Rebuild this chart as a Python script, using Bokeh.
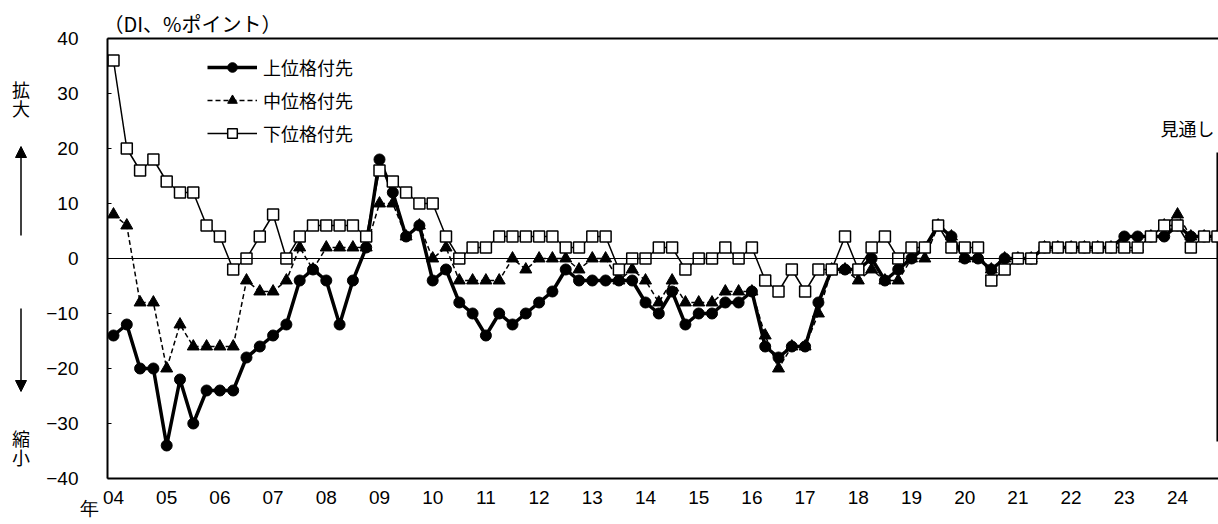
from bokeh.plotting import figure
from bokeh.layouts import row
from bokeh.models import (Legend, LegendItem, FixedTicker, LinearAxis, Label, Arrow,
                          NormalHead, Span, Range1d)
from bokeh.embed import file_html
from bokeh.resources import INLINE
from bokeh.core.properties import value

# ---- data (quarterly, 2004Q1 .. 2024Q4; last point = outlook) ----
quarters = [f"{y:02d}Q{q}" for y in range(4, 25) for q in range(1, 5)]
year_labels = ["04", "05", "06", "07", "08", "09", "10", "11", "12", "13", "14",
               "15", "16", "17", "18", "19", "20", "21", "22", "23", "24"]

upper = [-14, -12, -20, -20, -34, -22, -30, -24, -24, -24,
         -18, -16, -14, -12, -4, -2, -4, -12, -4, 2,
         18, 12, 4, 6, -4, -2, -8, -10, -14, -10,
         -12, -10, -8, -6, -2, -4, -4, -4, -4, -4,
         -8, -10, -6, -12, -10, -10, -8, -8, -6, -16,
         -18, -16, -16, -8, -2, -2, -2, 0, -4, -2,
         0, 2, 6, 4, 0, 0, -2, 0, 0, 0,
         2, 2, 2, 2, 2, 2, 4, 4, 4, 4,
         6, 4, 4, 4]

middle = [8, 6, -8, -8, -20, -12, -16, -16, -16, -16,
          -4, -6, -6, -4, 2, -2, 2, 2, 2, 2,
          10, 10, 4, 6, 0, 2, -4, -4, -4, -4,
          0, -2, 0, 0, 0, -2, 0, 0, -4, -2,
          -4, -8, -4, -8, -8, -8, -6, -6, -6, -14,
          -20, -16, -16, -10, -2, -2, -4, -2, -4, -4,
          0, 0, 6, 4, 0, 0, -2, 0, 0, 0,
          2, 2, 2, 2, 2, 2, 2, 2, 4, 6,
          8, 4, 4, 4]

lower = [36, 20, 16, 18, 14, 12, 12, 6, 4, -2,
         0, 4, 8, 0, 4, 6, 6, 6, 6, 4,
         16, 14, 12, 10, 10, 4, 0, 2, 2, 4,
         4, 4, 4, 4, 2, 2, 4, 4, -2, 0,
         0, 2, 2, -2, 0, 0, 2, 0, 2, -4,
         -6, -2, -6, -2, -2, 4, -2, 2, 4, 0,
         2, 2, 6, 2, 2, 2, -4, -2, 0, 0,
         2, 2, 2, 2, 2, 2, 2, 2, 4, 6,
         6, 2, 4, 4]

series_names = ["上位格付先", "中位格付先", "下位格付先"]
y_ticks = [-40, -30, -20, -10, 0, 10, 20, 30, 40]
side_up = ["拡", "大"]
side_down = ["縮", "小"]
year_mark = "年"

x = list(range(len(quarters)))
outlook_x = len(quarters) - 1

JP = "Noto Sans CJK JP"
NUM = "Liberation Sans"

# ---- layout (page drawn from top-left corner) ----
W, H = 1218, 524
LW = 36                            # width of the left side strip
FL, FT, FB = 107, 38, 46           # frame left (page px) / top / bottom borders
X0, X1 = -0.45, 83.08
Y0, Y1 = -40, 40
FW = W - FL
FH = H - FT - FB


def fx(px):
    return X0 + (px - FL) * (X1 - X0) / FW


def fy(py):
    return Y1 - (py - FT) * (Y1 - Y0) / FH


# ---- left strip: 拡大 / 縮小 with arrows (coordinates = page pixels) ----
side = figure(width=LW, height=H, x_range=Range1d(0, LW), y_range=Range1d(H - FB, FT),
              x_axis_type=None, y_axis_type=None, output_backend="svg", toolbar_location=None,
              min_border_left=0, min_border_right=0, min_border_top=FT, min_border_bottom=FB)
side.outline_line_color = None
side.background_fill_color = "white"
side.border_fill_color = "white"
side.text(x=[20.5, 20.5], y=[88, 107], text=side_up, text_font=value(JP), text_font_size="18px",
          text_align="center", text_baseline="middle", text_color="black")
side.text(x=[20.5, 20.5], y=[437, 456], text=side_down, text_font=value(JP), text_font_size="18px",
          text_align="center", text_baseline="middle", text_color="black")
side.add_layout(Arrow(x_start=20.5, y_start=235, x_end=20.5, y_end=146, line_width=1.5,
                      line_color="black",
                      end=NormalHead(size=11, fill_color="black", line_color="black")))
side.add_layout(Arrow(x_start=20.5, y_start=308, x_end=20.5, y_end=391, line_width=1.5,
                      line_color="black",
                      end=NormalHead(size=11, fill_color="black", line_color="black")))

# ---- main chart ----
p = figure(width=W - LW, height=H, x_range=Range1d(X0, X1), y_range=Range1d(Y0, Y1),
           output_backend="svg", toolbar_location=None,
           min_border_left=FL - LW, min_border_right=0, min_border_top=FT, min_border_bottom=FB)
p.outline_line_color = None
p.background_fill_color = "white"
p.border_fill_color = "white"
p.xgrid.visible = False
p.ygrid.visible = False

# title (unit)
p.title.text = "（DI、%ポイント）"
p.title.align = "left"
p.title.offset = -4
p.title.standoff = 2
p.title.text_font = JP
p.title.text_font_size = "20px"
p.title.text_font_style = "normal"
p.title.text_color = "black"

# x axis; the first label carries the "年" mark on a second line, shifted left
x_labels = {4 * k: lab for k, lab in enumerate(year_labels)}
x_labels[0] = year_labels[0] + "\n" + year_mark + "\u3000\u3000\u2002"
p.xaxis.ticker = FixedTicker(ticks=[4 * k for k in range(len(year_labels))])
p.xaxis.major_label_overrides = x_labels
p.xaxis.major_tick_in = 0
p.xaxis.major_tick_out = 0
p.xaxis.minor_tick_in = 0
p.xaxis.minor_tick_out = 0
p.xaxis.axis_line_width = 2
p.xaxis.axis_line_color = "black"
p.xaxis.major_label_standoff = 8
p.xaxis.major_label_text_font = NUM
p.xaxis.major_label_text_font_size = "19px"
p.xaxis.major_label_text_line_height = 0.55
p.xaxis.major_label_text_color = "black"

# y axis
p.yaxis.ticker = FixedTicker(ticks=y_ticks)
p.yaxis.major_label_overrides = {v: (f"\u2212{abs(v)}" if v < 0 else str(v)) for v in y_ticks}
p.yaxis.major_tick_in = 4
p.yaxis.major_tick_out = 0
p.yaxis.minor_tick_in = 0
p.yaxis.minor_tick_out = 0
p.yaxis.axis_line_width = 2
p.yaxis.axis_line_color = "black"
p.yaxis.major_label_standoff = 29
p.yaxis.major_label_text_font = NUM
p.yaxis.major_label_text_font_size = "19px"
p.yaxis.major_label_text_color = "black"

# top border
top_axis = LinearAxis(ticker=FixedTicker(ticks=[]), axis_line_width=2, axis_line_color="black",
                      major_tick_in=0, major_tick_out=0, minor_tick_in=0, minor_tick_out=0,
                      major_label_text_font_size="0px")
p.add_layout(top_axis, "above")

# zero line
p.add_layout(Span(location=0, dimension="width", line_color="black", line_width=1))

# outlook separator
p.segment(x0=[outlook_x], y0=[fy(152)], x1=[outlook_x], y1=[fy(441)], line_color="black", line_width=2)

# series
l_u = p.line(x, upper, line_color="black", line_width=3.5)
m_u = p.scatter(x, upper, marker="circle", size=11, fill_color="black", line_color="black")
l_m = p.line(x, middle, line_color="black", line_width=1.5, line_dash="5 3")
m_m = p.scatter(x, middle, marker="triangle", size=12, fill_color="black", line_color="black")
l_l = p.line(x, lower, line_color="black", line_width=1.5)
m_l = p.scatter(x, lower, marker="square", size=11, fill_color="white", line_color="black",
                line_width=1.5)

legend = Legend(items=[LegendItem(label=series_names[0], renderers=[l_u, m_u]),
                       LegendItem(label=series_names[1], renderers=[l_m, m_m]),
                       LegendItem(label=series_names[2], renderers=[l_l, m_l])],
                location=(100, 332), padding=0, margin=0, spacing=7,
                glyph_width=50, glyph_height=24, label_height=24, label_standoff=6,
                label_text_font=JP, label_text_font_size="18px", label_text_color="black",
                background_fill_alpha=0, border_line_color=None)
p.add_layout(legend)

# outlook text (inside frame)
p.add_layout(Label(x=fx(1160), y=fy(127), text="見通し", text_font=JP, text_font_size="18px",
                   text_align="left", text_baseline="middle", text_color="black"))

open("out.html", "w").write(file_html(row(side, p), INLINE))
